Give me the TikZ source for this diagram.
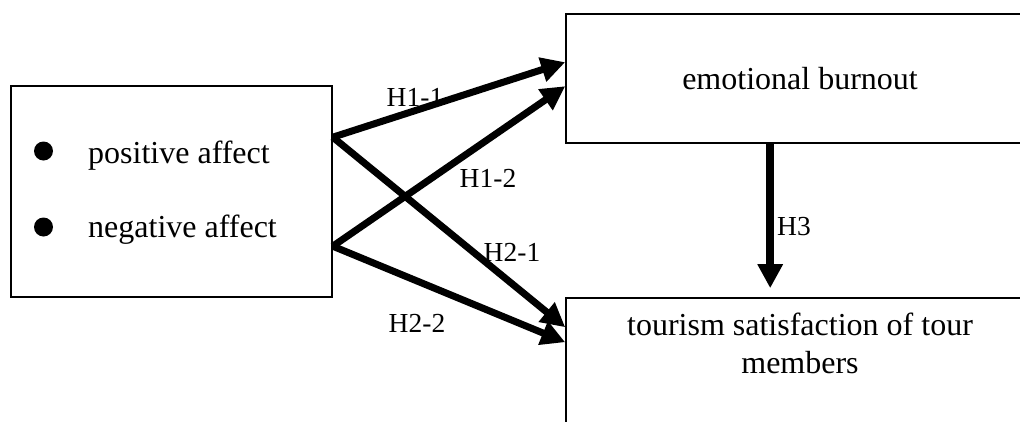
\documentclass[tikz,border=0pt]{standalone}
\usepackage{fontspec}
\setmainfont{Liberation Serif}
\usetikzlibrary{arrows.meta}
\begin{document}
\begin{tikzpicture}[x=1pt,y=-1pt,
  box/.style={draw,line width=1.6pt,rectangle,inner sep=0pt},
  maintext/.style={font=\fontsize{32}{38}\selectfont,inner sep=0pt},
  hyplabel/.style={font=\fontsize{27.5}{32}\selectfont,inner sep=0pt},
  bulletdot/.style={circle,fill=black,inner sep=0pt,minimum size=19pt},
  path arrow/.style={line width=7pt,-{Triangle[length=24pt,width=24pt]}}]
\useasboundingbox (0,0) rectangle (1020,421);
\clip (0,0) rectangle (1020,421);

% boxes
\node[box,minimum width=321pt,minimum height=211pt] (aff) at (171.5,191.5) {};
\node[box,maintext,minimum width=468pt,minimum height=129pt] (eb) at (800,78.5) {emotional burnout};
\node[box,minimum width=468pt,minimum height=180pt] (sat) at (800,388) {};
\node[maintext,align=center,anchor=north] (sattext) at (800,313)
  {tourism satisfaction of tour\\members};

% affect items
\node[bulletdot] (b1) at (43.5,151) {};
\node[bulletdot] (b2) at (43.5,227) {};
\node[maintext,anchor=base west] (pa) at (88,163) {positive affect};
\node[maintext,anchor=base west] (na) at (88,237) {negative affect};

% arrow end points on box edges
\coordinate (p1) at ([yshift=-52pt]aff.north east);
\coordinate (p2) at ([yshift=-161pt]aff.north east);
\coordinate (e1) at ([yshift=-49pt]eb.north west);
\coordinate (e2) at ([yshift=-73pt]eb.north west);
\coordinate (s1) at ([yshift=-30pt]sat.north west);
\coordinate (s2) at ([yshift=-45pt]sat.north west);
\coordinate (h3a) at ([xshift=205pt]eb.south west);
\coordinate (h3b) at ([xshift=205pt,yshift=9pt]sat.north west);

\draw[path arrow] (p1) -- (e1);
\draw[path arrow] (p2) -- (e2);
\draw[path arrow] (p1) -- (s1);
\draw[path arrow] (p2) -- (s2);
\draw[path arrow,line width=7.5pt] (h3a) -- (h3b);

% hypothesis labels
\node[hyplabel] (l11) at (415,97) {H1-1};
\node[hyplabel] (l12) at (488,178) {H1-2};
\node[hyplabel] (l21) at (512,252) {H2-1};
\node[hyplabel] (l22) at (417,323) {H2-2};
\node[hyplabel] (l3) at (794,227) {H3};
\end{tikzpicture}
\end{document}
